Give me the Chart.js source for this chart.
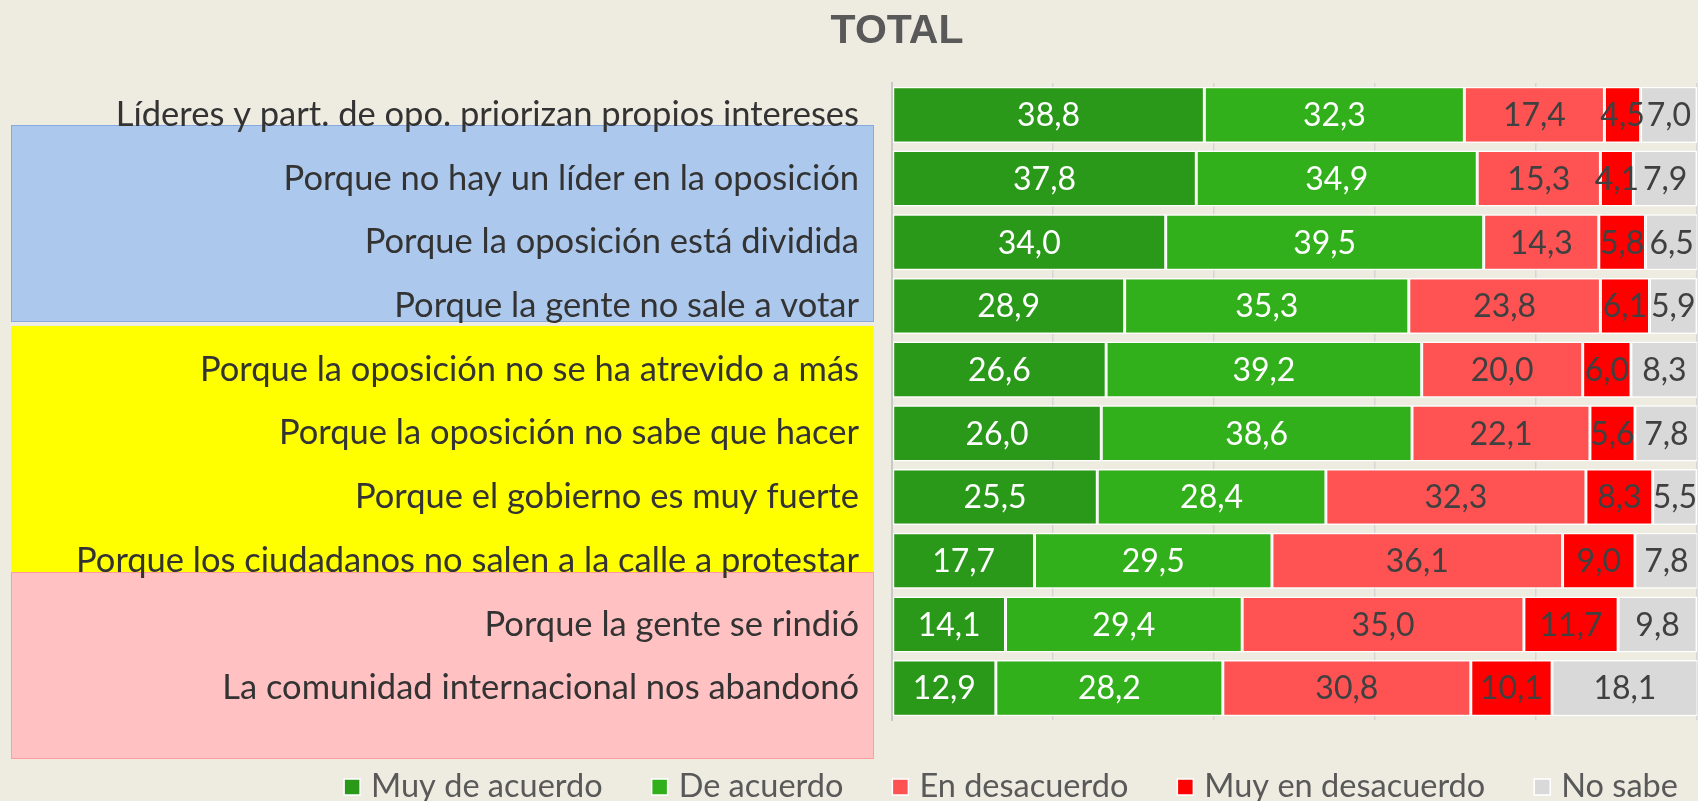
<!DOCTYPE html>
<html>
<head>
<meta charset="utf-8">
<script src="https://cdn.jsdelivr.net/npm/chart.js@4.4.1/dist/chart.umd.min.js"></script>
<style>
  html, body { margin: 0; padding: 0; background: #EEECE1; }
  #wrap { width: 1698px; height: 801px; }
</style>
</head>
<body>
<div id="wrap"><canvas id="c" width="1698" height="801"></canvas></div>
<script>
// ---------- DATA ----------
const chartTitle = 'TOTAL';
const categories = [
  'Líderes y part. de opo. priorizan propios intereses',
  'Porque no hay un líder en la oposición',
  'Porque la oposición está dividida',
  'Porque la gente no sale a votar',
  'Porque la oposición no se ha atrevido a más',
  'Porque la oposición no sabe que hacer',
  'Porque el gobierno es muy fuerte',
  'Porque los ciudadanos no salen a la calle a protestar',
  'Porque la gente se rindió',
  'La comunidad internacional nos abandonó'
];
const seriesNames = ['Muy de acuerdo', 'De acuerdo', 'En desacuerdo', 'Muy en desacuerdo', 'No sabe'];
const muyDeAcuerdo     = [38.8, 37.8, 34.0, 28.9, 26.6, 26.0, 25.5, 17.7, 14.1, 12.9];
const deAcuerdo        = [32.3, 34.9, 39.5, 35.3, 39.2, 38.6, 28.4, 29.5, 29.4, 28.2];
const enDesacuerdo     = [17.4, 15.3, 14.3, 23.8, 20.0, 22.1, 32.3, 36.1, 35.0, 30.8];
const muyEnDesacuerdo  = [4.5, 4.1, 5.8, 6.1, 6.0, 5.6, 8.3, 9.0, 11.7, 10.1];
const noSabe           = [7.0, 7.9, 6.5, 5.9, 8.3, 7.8, 5.5, 7.8, 9.8, 18.1];
const xTicks = [0, 20, 40, 60, 80, 100];
// category-index ranges of the highlighted label groups
const groupFrom = [0.16, 3.315, 7.177];
const groupTo   = [3.252, 7.177, 10.112];

// ---------- STYLES ----------
const BG = '#EEECE1';
const seriesColors = ['#2A9919', '#32B01B', '#FF5252', '#FF0000', '#D9D9D9'];
const labelColors  = ['#FFFFFF', '#FFFFFF', '#404040', '#404040', '#404040'];
const groupFill    = ['#ACC8EC', '#FFFF00', '#FFC1C1'];
const groupStroke  = ['#86AADF', '#FFFF00', '#FF9C9C'];
const labelFont = 'Lato';

const seriesData = [muyDeAcuerdo, deAcuerdo, enDesacuerdo, muyEnDesacuerdo, noSabe];

const datasets = seriesNames.map((name, i) => ({
  label: name,
  data: seriesData[i],
  backgroundColor: seriesColors[i],
  borderColor: '#FFFFFF',
  borderWidth: 1.5,
  borderSkipped: false,
  barPercentage: 0.88,
  categoryPercentage: 1.0
}));

const backgroundPlugin = {
  id: 'bgGroups',
  beforeDraw(chart) {
    const ctx = chart.ctx;
    ctx.save();
    ctx.fillStyle = BG;
    ctx.fillRect(0, 0, chart.width, chart.height);
    const y = chart.scales.y;
    for (let i = 0; i < groupFrom.length; i++) {
      const top = y.getPixelForValue(groupFrom[i]);
      const bot = y.getPixelForValue(groupTo[i]);
      ctx.fillStyle = groupFill[i];
      ctx.fillRect(11, top, 863, bot - top);
      ctx.strokeStyle = groupStroke[i];
      ctx.lineWidth = 1;
      ctx.strokeRect(11.5, Math.round(top) + 0.5, 862, Math.round(bot - top) - 1);
    }
    ctx.restore();
  }
};

const valueLabelPlugin = {
  id: 'valueLabels',
  afterDatasetsDraw(chart) {
    const ctx = chart.ctx;
    ctx.save();
    ctx.font = '32px ' + labelFont;
    ctx.textAlign = 'center';
    ctx.textBaseline = 'middle';
    chart.data.datasets.forEach((ds, di) => {
      const meta = chart.getDatasetMeta(di);
      ctx.fillStyle = labelColors[di];
      meta.data.forEach((bar, j) => {
        const v = ds.data[j];
        const cx = (bar.x + bar.base) / 2;
        ctx.fillText(v.toFixed(1).replace('.', ','), cx, bar.y + 1);
      });
    });
    ctx.restore();
  }
};

const titleLegendPlugin = {
  id: 'titleLegend',
  afterDraw(chart) {
    const ctx = chart.ctx;
    ctx.save();
    // title
    ctx.font = 'bold 41px "Liberation Sans", Arial, sans-serif';
    ctx.fillStyle = '#595959';
    ctx.textAlign = 'center';
    ctx.textBaseline = 'middle';
    ctx.fillText(chartTitle, 897, 32);
    // legend
    ctx.font = '32.5px ' + labelFont;
    ctx.textAlign = 'left';
    const box = 16, gapBox = 11, gapItem = 49;
    const widths = seriesNames.map(n => box + gapBox + ctx.measureText(n).width);
    const total = widths.reduce((a, b) => a + b, 0) + gapItem * (widths.length - 1);
    let x = 1011 - total / 2;
    const cy = 787;
    seriesNames.forEach((n, i) => {
      ctx.fillStyle = seriesColors[i];
      ctx.fillRect(x, cy - box / 2, box, box);
      ctx.strokeStyle = '#FFFFFF';
      ctx.lineWidth = 1.5;
      ctx.strokeRect(x, cy - box / 2, box, box);
      ctx.fillStyle = '#595959';
      ctx.fillText(n, x + box + gapBox, cy);
      x += widths[i] + gapItem;
    });
    ctx.restore();
  }
};

new Chart(document.getElementById('c'), {
  type: 'bar',
  data: { labels: categories, datasets },
  options: {
    indexAxis: 'y',
    responsive: false,
    animation: false,
    maintainAspectRatio: false,
    layout: { padding: { top: 83, bottom: 81, left: 0, right: 1 } },
    plugins: {
      legend: { display: false },
      title: { display: false },
      tooltip: { enabled: false }
    },
    scales: {
      x: {
        stacked: true,
        min: 0,
        max: 100,
        afterBuildTicks(scale) { scale.ticks = xTicks.map(v => ({ value: v })); },
        ticks: { display: false },
        grid: { color: '#D6D6D6', lineWidth: 1.5, drawTicks: false },
        border: { display: false }
      },
      y: {
        stacked: true,
        offset: true,
        afterFit(scale) { scale.width = 892; },
        grid: { display: false, drawTicks: false },
        border: { display: true, color: '#C8C8C8', width: 2 },
        ticks: {
          padding: 33,
          color: '#333333',
          font: { family: labelFont, size: 34.5 }
        }
      }
    }
  },
  plugins: [backgroundPlugin, valueLabelPlugin, titleLegendPlugin]
});
</script>
</body>
</html>
